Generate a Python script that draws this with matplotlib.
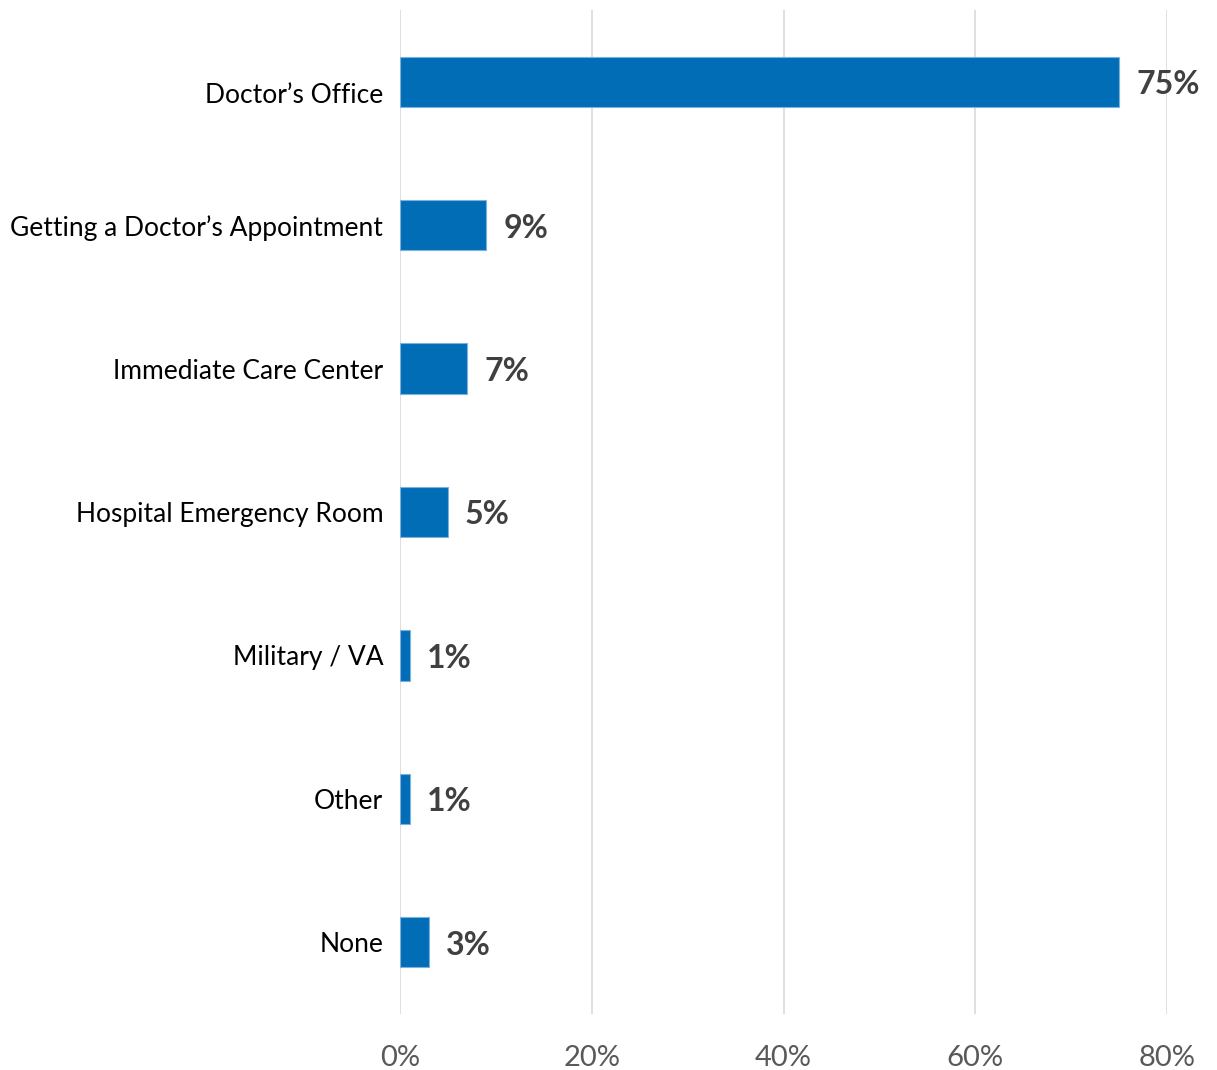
import matplotlib.pyplot as plt
import matplotlib.transforms as mtransforms

categorias = ["Doctor’s Office", "Getting a Doctor’s Appointment", "Immediate Care Center",
              "Hospital Emergency Room", "Military / VA", "Other", "None"]
valores = [75, 9, 7, 5, 1, 1, 3]
rotulos = ["75%", "9%", "7%", "5%", "1%", "1%", "3%"]
ticks_x = [0, 20, 40, 60, 80]

plt.rcParams['font.family'] = ['Lato', 'DejaVu Sans']

fig = plt.figure(figsize=(12.17, 10.70), dpi=100)
ax = fig.add_axes([0.3287, 0.0523, 0.6302, 0.9384])

posicoes = list(range(len(categorias)))
ax.barh(posicoes, valores, height=0.35, color='#006DB6', edgecolor='#7fb0dc', linewidth=0.8, zorder=2)

for y, v, txt in zip(posicoes, valores, rotulos):
    ax.annotate(txt, xy=(v, y), xytext=(17, -3), textcoords='offset pixels',
                ha='left', va='center', fontsize=23, fontweight='bold', color='#404040', zorder=3)

ax.set_xlim(0, 80)
ax.set_ylim(6.5, -0.5)
ax.set_xticks(ticks_x)
ax.set_xticklabels([f"{t}%" for t in ticks_x])
ax.set_yticks(posicoes)
ax.set_yticklabels(categorias)

ax.tick_params(axis='x', length=0, pad=22, labelsize=21, labelcolor='#595959')
ax.tick_params(axis='y', length=0, pad=12, labelsize=19, labelcolor='#000000')
ax.grid(True, axis='x', color='#d9d9d9', linewidth=1.2, zorder=0)
ax.set_axisbelow(True)
for s in ax.spines.values():
    s.set_visible(False)

# primeiro rótulo fica um pouco abaixo do centro da barra
primeiro = ax.get_yticklabels()[0]
primeiro.set_transform(primeiro.get_transform() +
                       mtransforms.ScaledTranslation(0, -8 / 72, fig.dpi_scale_trans))

plt.savefig("out.png", dpi=100)
